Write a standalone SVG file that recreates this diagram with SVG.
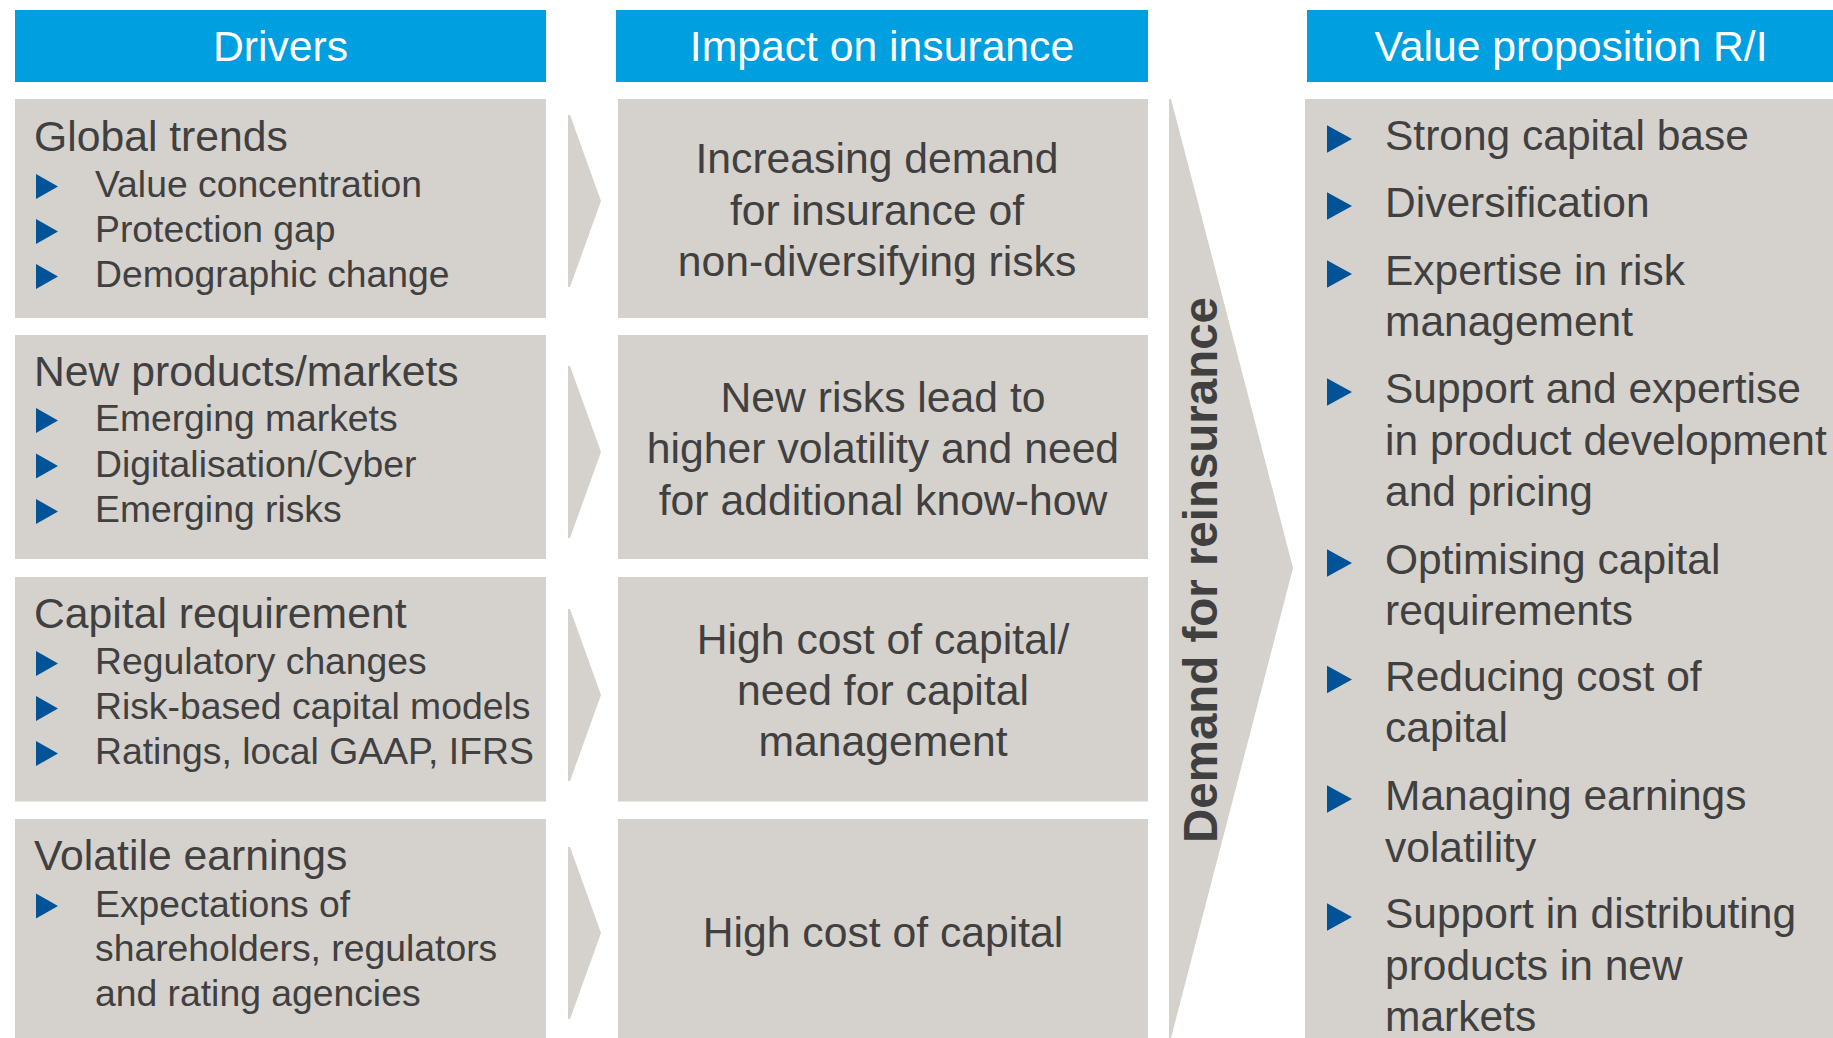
<svg xmlns="http://www.w3.org/2000/svg" xmlns:xlink="http://www.w3.org/1999/xlink" width="1833" height="1038" viewBox="0 0 1833 1038">
  <style>
    text { font-family: "Liberation Sans", Arial, sans-serif; fill: #404040; }
    .hdr { fill: #009FDF; }
    .hdr-t { fill: #FFFFFF; font-size: 42.7px; text-anchor: middle; }
    .box { fill: #D5D1CD; }
    .title { font-size: 42.7px; }
    .item { font-size: 37.3px; }
    .mid { font-size: 42.7px; text-anchor: middle; }
    .val { font-size: 42.5px; }
    .arrow { fill: #D5D1CD; }
    .bullet { fill: #005396; }
    .vert { font-size: 48px; font-weight: bold; text-anchor: middle; }
  </style>
  <defs>
    <!-- small bullet (drivers column) and large bullet (value proposition column) -->
    <path id="bullet-s" class="bullet" d="M0,-12.5 L22,0 L0,12.5 Z"/>
    <path id="bullet-l" class="bullet" d="M0,-13.7 L25,0 L0,13.7 Z"/>
  </defs>

  <rect width="1833" height="1038" fill="#FFFFFF"/>

  <!-- column headers -->
  <g id="header-drivers">
    <rect class="hdr" x="15" y="10" width="531" height="72"/>
    <text class="hdr-t" x="280.5" y="61">Drivers</text>
  </g>
  <g id="header-impact">
    <rect class="hdr" x="616" y="10" width="532" height="72"/>
    <text class="hdr-t" x="882" y="61">Impact on insurance</text>
  </g>
  <g id="header-value">
    <rect class="hdr" x="1307" y="10" width="526" height="72"/>
    <text class="hdr-t" x="1571" y="61">Value proposition R/I</text>
  </g>

  <!-- drivers column -->
  <g id="driver-global-trends">
    <rect class="box" x="15" y="99" width="531" height="219"/>
    <text class="title" x="34" y="151">Global trends</text>
    <use href="#bullet-s" x="36" y="186.5"/>
    <text class="item" x="95" y="197">Value concentration</text>
    <use href="#bullet-s" x="36" y="231.5"/>
    <text class="item" x="95" y="242">Protection gap</text>
    <use href="#bullet-s" x="36" y="276.5"/>
    <text class="item" x="95" y="287">Demographic change</text>
  </g>
  <g id="driver-new-products">
    <rect class="box" x="15" y="335" width="531" height="224"/>
    <text class="title" x="34" y="386">New products/markets</text>
    <use href="#bullet-s" x="36" y="420.5"/>
    <text class="item" x="95" y="431">Emerging markets</text>
    <use href="#bullet-s" x="36" y="466"/>
    <text class="item" x="95" y="476.5">Digitalisation/Cyber</text>
    <use href="#bullet-s" x="36" y="511.5"/>
    <text class="item" x="95" y="522">Emerging risks</text>
  </g>
  <g id="driver-capital-requirement">
    <rect class="box" x="15" y="577" width="531" height="224.5"/>
    <text class="title" x="34" y="628">Capital requirement</text>
    <use href="#bullet-s" x="36" y="663.5"/>
    <text class="item" x="95" y="674">Regulatory changes</text>
    <use href="#bullet-s" x="36" y="708.5"/>
    <text class="item" x="95" y="719">Risk-based capital models</text>
    <use href="#bullet-s" x="36" y="753.5"/>
    <text class="item" x="95" y="764">Ratings, local GAAP, IFRS</text>
  </g>
  <g id="driver-volatile-earnings">
    <rect class="box" x="15" y="819" width="531" height="219"/>
    <text class="title" x="34" y="870">Volatile earnings</text>
    <use href="#bullet-s" x="36" y="906"/>
    <text class="item" x="95" y="916.5">Expectations of</text>
    <text class="item" x="95" y="961">shareholders, regulators</text>
    <text class="item" x="95" y="1005.5">and rating agencies</text>
  </g>

  <!-- impact column -->
  <g id="impact-demand">
    <rect class="box" x="618" y="99" width="530" height="219"/>
    <text class="mid" x="877" y="173">Increasing demand</text>
    <text class="mid" x="877" y="224.5">for insurance of</text>
    <text class="mid" x="877" y="276">non-diversifying risks</text>
  </g>
  <g id="impact-new-risks">
    <rect class="box" x="618" y="335" width="530" height="224"/>
    <text class="mid" x="883" y="411.5">New risks lead to</text>
    <text class="mid" x="883" y="463">higher volatility and need</text>
    <text class="mid" x="883" y="514.5">for additional know-how</text>
  </g>
  <g id="impact-capital-management">
    <rect class="box" x="618" y="577" width="530" height="224.5"/>
    <text class="mid" x="883" y="653.5">High cost of capital/</text>
    <text class="mid" x="883" y="705">need for capital</text>
    <text class="mid" x="883" y="756">management</text>
  </g>
  <g id="impact-cost-of-capital">
    <rect class="box" x="618" y="819" width="530" height="219"/>
    <text class="mid" x="883" y="947">High cost of capital</text>
  </g>

  <!-- arrows from each driver to its impact -->
  <g id="connectors">
    <polygon class="arrow" points="568,115 570,115 601,201 570,287 568,287"/>
    <polygon class="arrow" points="568,366 570,366 601,452 570,538 568,538"/>
    <polygon class="arrow" points="568,609 570,609 601,695 570,781 568,781"/>
    <polygon class="arrow" points="568,847 570,847 601,933 570,1019 568,1019"/>
  </g>

  <!-- large arrow gathering all impacts -->
  <g id="demand-for-reinsurance">
    <polygon class="arrow" points="1169,99 1171,99 1293,568 1171,1038 1169,1038"/>
    <text class="vert" transform="translate(1217,570) rotate(-90)" x="0" y="0" textLength="546" lengthAdjust="spacingAndGlyphs">Demand for reinsurance</text>
  </g>

  <!-- value proposition column -->
  <g id="value-proposition">
    <rect class="box" x="1305" y="99" width="528" height="939"/>
    <use href="#bullet-l" x="1327" y="139"/>
    <text class="val" x="1385" y="150">Strong capital base</text>
    <use href="#bullet-l" x="1327" y="206"/>
    <text class="val" x="1385" y="217">Diversification</text>
    <use href="#bullet-l" x="1327" y="274"/>
    <text class="val" x="1385" y="285">Expertise in risk</text>
    <text class="val" x="1385" y="336">management</text>
    <use href="#bullet-l" x="1327" y="392"/>
    <text class="val" x="1385" y="403">Support and expertise</text>
    <text class="val" x="1385" y="455">in product development</text>
    <text class="val" x="1385" y="506">and pricing</text>
    <use href="#bullet-l" x="1327" y="563"/>
    <text class="val" x="1385" y="574">Optimising capital</text>
    <text class="val" x="1385" y="625">requirements</text>
    <use href="#bullet-l" x="1327" y="679.5"/>
    <text class="val" x="1385" y="690.5">Reducing cost of</text>
    <text class="val" x="1385" y="742">capital</text>
    <use href="#bullet-l" x="1327" y="799"/>
    <text class="val" x="1385" y="810">Managing earnings</text>
    <text class="val" x="1385" y="862">volatility</text>
    <use href="#bullet-l" x="1327" y="917"/>
    <text class="val" x="1385" y="928">Support in distributing</text>
    <text class="val" x="1385" y="980">products in new</text>
    <text class="val" x="1385" y="1031">markets</text>
  </g>
</svg>
